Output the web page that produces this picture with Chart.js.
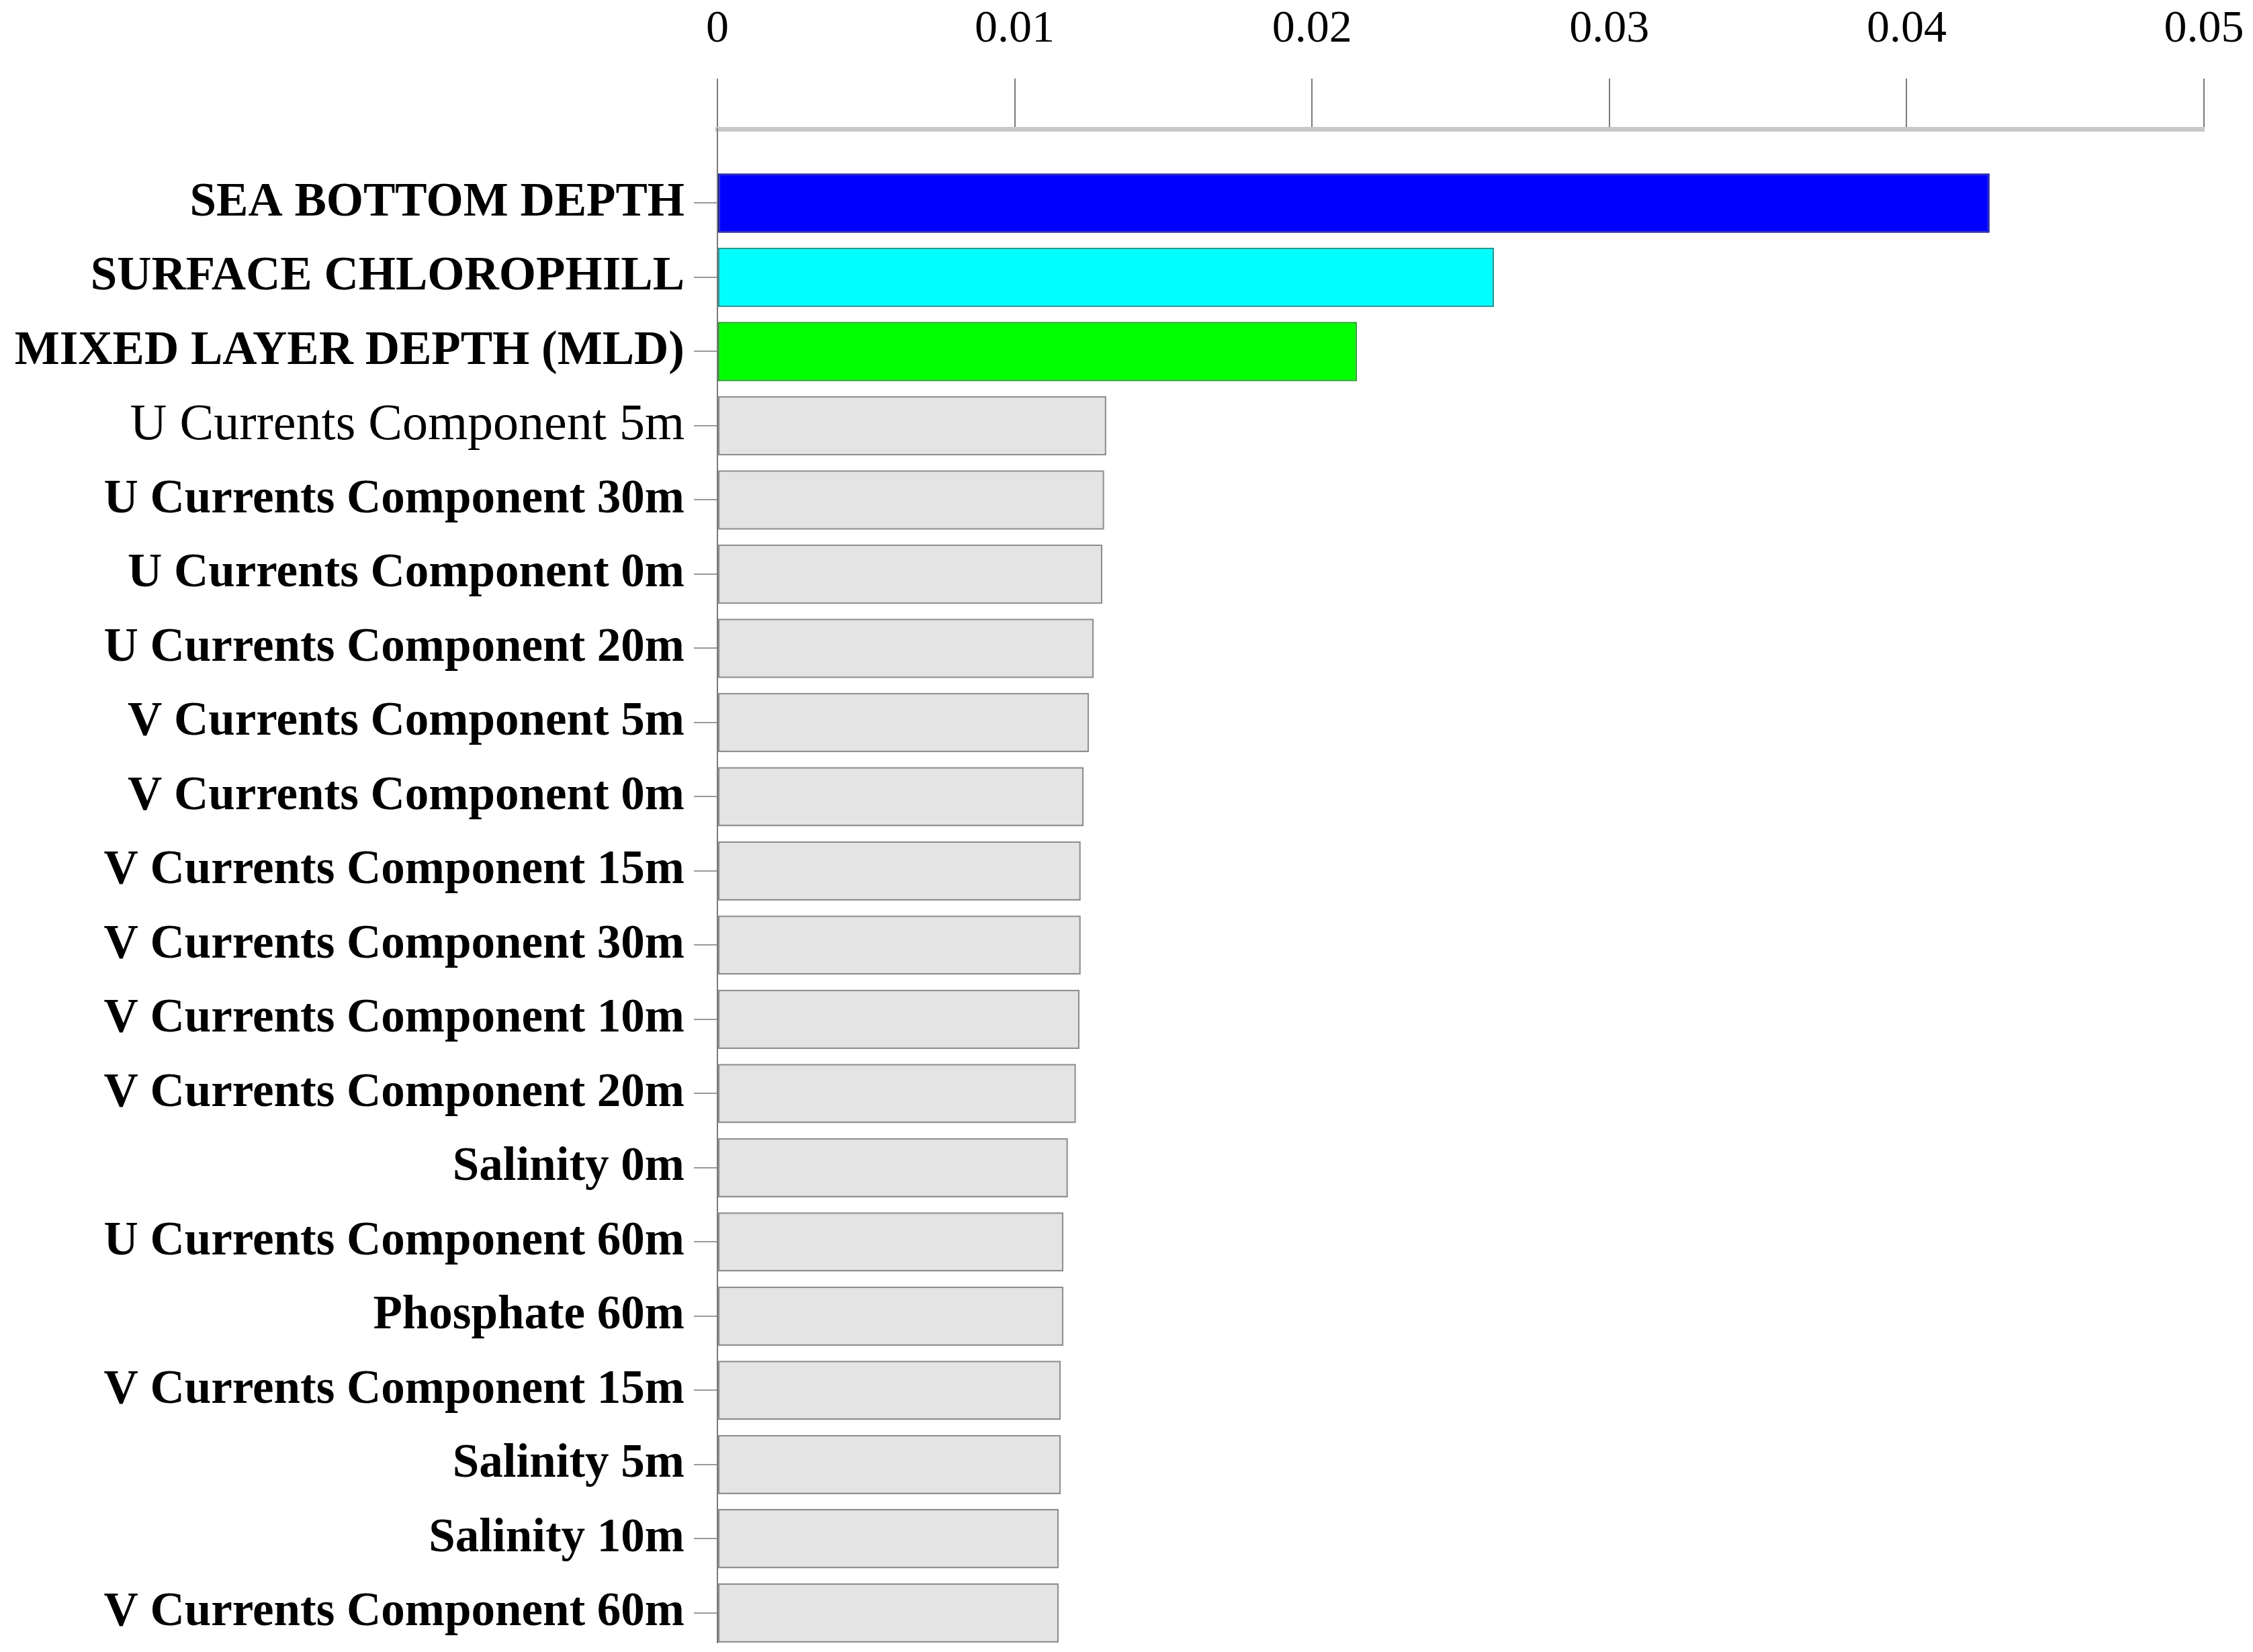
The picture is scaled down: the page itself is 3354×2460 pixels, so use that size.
<!DOCTYPE html>
<html>
<head>
<meta charset="utf-8">
<script src="https://cdn.jsdelivr.net/npm/chart.js@4/dist/chart.umd.min.js"></script>
<style>
  html, body { margin: 0; padding: 0; background: #ffffff; overflow: hidden; }
  #wrap { width: 3354px; height: 2460px; position: relative; }
</style>
</head>
<body>
<div id="wrap"><canvas id="c"></canvas></div>
<script>
// ---- data ----
const categories = [
  "SEA BOTTOM DEPTH",
  "SURFACE CHLOROPHILL",
  "MIXED LAYER DEPTH (MLD)",
  "U Currents Component 5m",
  "U Currents Component 30m",
  "U Currents Component 0m",
  "U Currents Component 20m",
  "V Currents Component 5m",
  "V Currents Component 0m",
  "V Currents Component 15m",
  "V Currents Component 30m",
  "V Currents Component 10m",
  "V Currents Component 20m",
  "Salinity 0m",
  "U Currents Component 60m",
  "Phosphate 60m",
  "V Currents Component 15m",
  "Salinity 5m",
  "Salinity 10m",
  "V Currents Component 60m"
];
const importance = [
  0.04279, 0.02612, 0.02151, 0.01308, 0.01301, 0.01295, 0.01266, 0.01250,
  0.01232, 0.01222, 0.01222, 0.01218, 0.01206, 0.01179, 0.01164, 0.01164,
  0.01155, 0.01155, 0.01148, 0.01148
];
const xTickValues = [0, 0.01, 0.02, 0.03, 0.04, 0.05];
const xTickLabels = ["0", "0.01", "0.02", "0.03", "0.04", "0.05"];

// ---- styles ----
const fillColors = categories.map((_, i) => i === 0 ? "#0000ff" : i === 1 ? "#00ffff" : i === 2 ? "#00ff00" : "#e4e4e4");
const edgeColors = categories.map((_, i) => i === 0 ? "#1c1ca0" : i === 1 ? "#1a9a9a" : i === 2 ? "#22a822" : "#8f8f8f");
const serif = "'Liberation Serif', 'Times New Roman', serif";

const canvas = document.getElementById("c");
canvas.width = 3354; canvas.height = 2460;

new Chart(canvas, {
  type: "bar",
  data: {
    datasets: [{
      data: importance.map((v, i) => ({ x: v, y: i })),
      backgroundColor: fillColors,
      borderColor: edgeColors,
      borderWidth: 2.5,
      borderSkipped: false,
      categoryPercentage: 1.0,
      barPercentage: 0.8
    }]
  },
  options: {
    indexAxis: "y",
    responsive: false,
    devicePixelRatio: 1,
    animation: false,
    layout: { padding: { left: 0, right: 73, top: 0, bottom: 14 } },
    plugins: { legend: { display: false }, tooltip: { enabled: false } },
    scales: {
      x: {
        type: "linear",
        position: "top",
        min: 0,
        max: 0.05,
        afterBuildTicks: s => { s.ticks = xTickValues.map(v => ({ value: v })); },
        afterFit: s => { s.height = 192; s.paddingLeft = 0; s.paddingRight = 0; },
        ticks: {
          color: "#000000",
          font: { family: serif, size: 68, weight: "normal" },
          padding: 32,
          maxRotation: 0,
          callback: (v, i) => xTickLabels[i]
        },
        grid: {
          drawOnChartArea: false,
          drawTicks: true,
          tickLength: 75,
          color: "#7a7a7a",
          lineWidth: 2
        },
        border: { display: true, color: "#c8c8c8", width: 7 }
      },
      y: {
        type: "linear",
        reverse: true,
        offset: false,
        min: -1,
        max: 19.4,
        afterBuildTicks: s => { s.ticks = categories.map((_, i) => ({ value: i })); },
        afterFit: s => { s.width = 1068; s.paddingTop = 0; s.paddingBottom = 0; },
        ticks: {
          color: "#000000",
          padding: 14,
          autoSkip: false,
          font: ctx => ({ family: serif, size: ctx.index === 3 ? 76 : 71, weight: ctx.index === 3 ? "normal" : "bold" }),
          callback: (v) => categories[v]
        },
        grid: {
          offset: false,
          drawOnChartArea: false,
          drawTicks: true,
          tickLength: 35,
          color: "#9a9a9a",
          lineWidth: 2
        },
        border: { display: true, color: "#7a7a7a", width: 2 }
      }
    }
  }
});
</script>
</body>
</html>
